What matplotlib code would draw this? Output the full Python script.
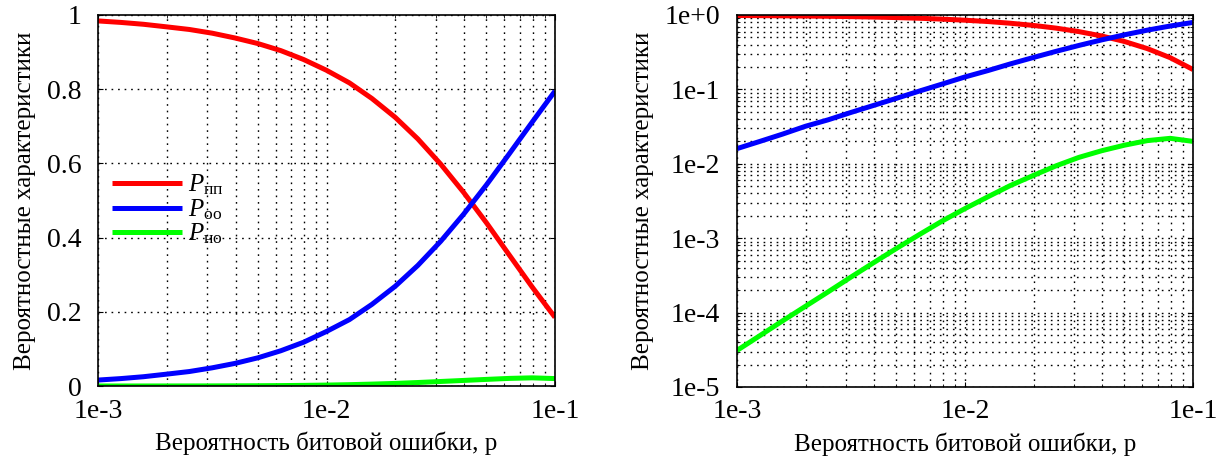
import matplotlib
matplotlib.use("Agg")
import matplotlib.pyplot as plt
from matplotlib.ticker import LogLocator, FixedLocator, NullFormatter

plt.rcParams['font.family'] = ['Liberation Serif', 'DejaVu Serif']
plt.rcParams['mathtext.fontset'] = 'custom'
plt.rcParams['mathtext.rm'] = 'Liberation Serif'
plt.rcParams['mathtext.it'] = 'Liberation Serif:italic'

# вероятность битовой ошибки
p = [0.001, 0.00126, 0.00158, 0.002, 0.00251, 0.00316, 0.00398, 0.00501,
     0.00631, 0.00794, 0.01, 0.0126, 0.0158, 0.02, 0.0251, 0.0316, 0.0398,
     0.0501, 0.0631, 0.0794, 0.1]

P_pp = [0.984, 0.980, 0.975, 0.968, 0.961, 0.951, 0.938, 0.923, 0.904, 0.880,
        0.851, 0.817, 0.775, 0.724, 0.666, 0.598, 0.522, 0.440, 0.353, 0.267,
        0.185]
P_oo = [0.016, 0.020, 0.025, 0.032, 0.039, 0.049, 0.061, 0.076, 0.095, 0.118,
        0.147, 0.179, 0.220, 0.269, 0.325, 0.390, 0.463, 0.542, 0.626, 0.711,
        0.795]
P_no = [3.1e-5, 4.9e-5, 7.7e-5, 1.22e-4, 1.9e-4, 3.0e-4, 4.7e-4, 7.3e-4,
        1.12e-3, 1.7e-3, 2.5e-3, 3.6e-3, 5.1e-3, 7.0e-3, 9.4e-3, 1.22e-2,
        1.50e-2, 1.78e-2, 2.05e-2, 2.2e-2, 2.0e-2]

labels = [r'$P_{\mathrm{пп}}$', r'$P_{\mathrm{оо}}$', r'$P_{\mathrm{но}}$']
colors = ['#ff0000', '#0000ff', '#00ff00']
series = [P_pp, P_oo, P_no]

xlabel = 'Вероятность битовой ошибки, p'
ylabel = 'Вероятностные характеристики'

fig = plt.figure(figsize=(12.19, 4.57), dpi=100)
ax1 = fig.add_axes([98/1219, 1-386/457, (555-98)/1219, 371/457])
ax2 = fig.add_axes([737/1219, 1-387/457, (1193-737)/1219, 372/457])

gridstyle = dict(color='black', linestyle=(0, (1.2, 3.5)), linewidth=1.0)

for ax in (ax1, ax2):
    for y, c, lab in zip(series, colors, labels):
        ax.plot(p, y, color=c, linewidth=3.6, label=lab, solid_capstyle='butt')
    ax.set_xscale('log')
    ax.set_xlim(1e-3, 1e-1)
    ax.xaxis.set_major_locator(FixedLocator([1e-3, 1e-2, 1e-1]))
    ax.set_xticklabels(['1e-3', '1e-2', '1e-1'])
    ax.xaxis.set_minor_locator(LogLocator(base=10, subs=range(2, 10)))
    ax.xaxis.set_minor_formatter(NullFormatter())
    ax.grid(True, which='both', **gridstyle)
    ax.tick_params(which='both', direction='in', labelsize=20, top=True, right=True)
    ax.tick_params(axis='x', pad=9)
    ax.tick_params(axis='y', pad=12)
    ax.set_xlabel(xlabel, fontsize=18, labelpad=6)
    ax.set_ylabel(ylabel, fontsize=18, labelpad=8)
    for s in ax.spines.values():
        s.set_linewidth(1.2)

ax1.set_ylim(0, 1)
ax1.set_yticks([0, 0.2, 0.4, 0.6, 0.8, 1])
ax1.set_yticklabels(['0', '0.2', '0.4', '0.6', '0.8', '1'])
ax1.legend(loc='upper left', bbox_to_anchor=(0.03, 0.575), frameon=False,
           fontsize=18, handlelength=2.8, handletextpad=0.25, labelspacing=0.0,
           borderaxespad=0, borderpad=0)

ax2.set_yscale('log')
ax2.set_ylim(1e-5, 1)
ax2.yaxis.set_major_locator(FixedLocator([1e-5, 1e-4, 1e-3, 1e-2, 1e-1, 1]))
ax2.set_yticklabels(['1e-5', '1e-4', '1e-3', '1e-2', '1e-1', '1e+0'])
ax2.yaxis.set_minor_locator(LogLocator(base=10, subs=range(2, 10)))
ax2.yaxis.set_minor_formatter(NullFormatter())

fig.savefig('out.png', dpi=100)
